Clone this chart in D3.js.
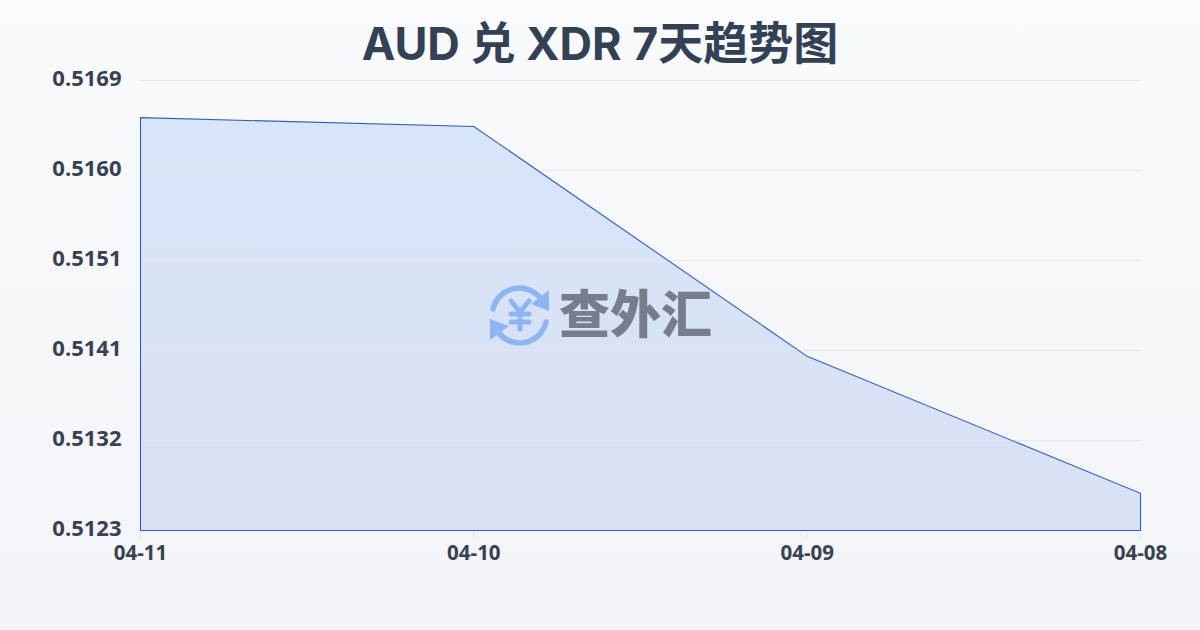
<!DOCTYPE html>
<html><head><meta charset="utf-8">
<script src="https://cdn.jsdelivr.net/npm/d3@7"></script>
<style>html,body{margin:0;padding:0;width:1200px;height:630px;overflow:hidden}svg{display:block}</style>
</head><body><svg id="c" width="1200" height="630"></svg>
<script>
const chartTitle = "AUD 兑 XDR 7天趋势图";
const dates = ["04-11","04-10","04-09","04-08"];
const rates = [0.51652,0.51643,0.51408,0.51268];
const yTicks = [0.5123,0.51322,0.51414,0.51506,0.51598,0.5169];
const brand = "查外汇";

const svg = d3.select("#c");
const M = {l:140.5,r:1140.5,t:80.5,b:530.5};
const titleFont = "Inter,'Noto Sans CJK SC',sans-serif";
const font = "'Open Sans','Noto Sans',sans-serif";
const defs = svg.append("defs");
const bg = defs.append("linearGradient").attr("id","bg").attr("x1",0).attr("y1",0).attr("x2",0).attr("y2",1);
bg.append("stop").attr("offset",0).attr("stop-color","#f9fafc");
bg.append("stop").attr("offset",1).attr("stop-color","#f2f4f7");
svg.append("rect").attr("width",1200).attr("height",630).attr("fill","url(#bg)");

const x = d3.scalePoint().domain(dates).range([M.l,M.r]);
const y = d3.scaleLinear().domain([yTicks[0],yTicks[yTicks.length-1]]).range([M.b,M.t]);

svg.append("text").attr("x",600).attr("y",60).attr("text-anchor","middle")
  .attr("font-family",titleFont).attr("font-weight",700).attr("font-size",45).attr("fill","#334155").text(chartTitle);

const gy = svg.append("g").attr("transform",`translate(${M.l},0)`)
  .call(d3.axisLeft(y).offset(0).tickValues(yTicks).tickSize(-(M.r-M.l)).tickPadding(19).tickFormat(d=>d.toFixed(4)));
gy.select(".domain").remove();
gy.selectAll("line").attr("stroke","#e3e6ec").attr("stroke-width",1);
gy.selectAll("text").attr("font-family",font).attr("font-weight",700).attr("font-size",22).attr("fill","#374151").attr("dy","0.27em");

const gx = svg.append("g").attr("transform",`translate(0,${M.b})`)
  .call(d3.axisBottom(x).offset(0).tickSize(8).tickPadding(7));
gx.select(".domain").remove();
gx.selectAll("line").attr("stroke","#e6e9ee");
gx.selectAll("text").attr("font-family",font).attr("font-weight",700).attr("font-size",20.5).attr("fill","#374151");

const fillGrad = defs.append("linearGradient").attr("id","af").attr("x1",0).attr("y1",0).attr("x2",0).attr("y2",1);
fillGrad.append("stop").attr("offset",0).attr("stop-color","#d8e4f8");
fillGrad.append("stop").attr("offset",1).attr("stop-color","#d9e1f4");
const area = d3.area().x((d,i)=>x(dates[i])).y0(M.b).y1(d=>y(d));
svg.append("path").datum(rates).attr("d",area).attr("fill","url(#af)").attr("stroke","none");
gy.raise();
svg.append("path").datum(rates).attr("d",area).attr("fill","none")
  .attr("stroke","#2a60c6").attr("stroke-width",1.1);

// watermark
const wm = svg.append("g");
const ring = wm.append("g").attr("fill","none").attr("stroke","#8db4f5").attr("stroke-width",5.5).attr("stroke-linecap","round");
ring.append("path").attr("d","M493 309 A27 27 0 0 1 541 299");
ring.append("path").attr("d","M546 322 A27 27 0 0 1 498 332");
wm.append("path").attr("fill","#8db4f5").attr("d","M549 290 L549 311 L531 304 Z");
wm.append("path").attr("fill","#8db4f5").attr("d","M490 340 L490 319 L509 326 Z");
const yen = wm.append("g").attr("fill","none").attr("stroke","#8db4f5").attr("stroke-width",5).attr("stroke-linecap","round").attr("stroke-linejoin","round");
yen.append("path").attr("d","M511 301 L520 312 L529 301 M520 312 L520 329 M511 314 L529 314 M511 322 L529 322");
wm.append("text").attr("x",559).attr("y",333).attr("font-family","'Noto Sans CJK SC',sans-serif").attr("font-weight",900)
  .attr("font-size",51).attr("fill","#757d8e").text(brand);
</script></body></html>
